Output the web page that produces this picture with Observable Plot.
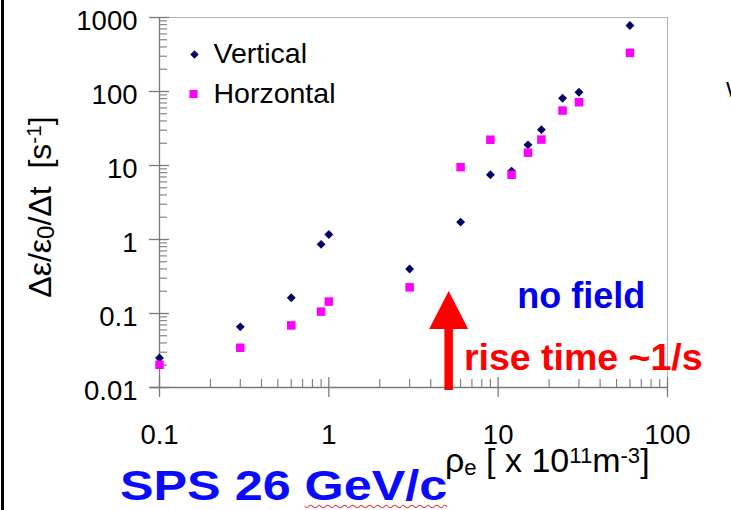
<!DOCTYPE html>
<html>
<head>
<meta charset="utf-8">
<script src="https://cdn.jsdelivr.net/npm/d3@7"></script>
<script src="https://cdn.jsdelivr.net/npm/@observablehq/plot@0.6"></script>
<style>
  html, body { margin: 0; padding: 0; background: #fff; }
  #wrap { position: relative; width: 731px; height: 510px; overflow: hidden; background: #fff; font-family: "Liberation Sans", Arial, sans-serif; }
  #wrap svg { position: absolute; left: 0; top: 0; }
  .ov { position: absolute; white-space: nowrap; line-height: 1; color: #000; }
  .sc { position: relative; font-size: 0.65em; }
</style>
</head>
<body>
<div id="wrap"></div>
<script>
// ---- data ----
const density = [0.1, 0.3, 0.6, 0.9, 1.0, 3, 6, 9, 12, 15, 18, 24, 30, 60];
const verticalRate = [0.025, 0.066, 0.163, 0.86, 1.17, 0.40, 1.72, 7.5, 8.4, 19, 30.5, 81, 97.5, 780];
const horizontalRate = [0.0203, 0.0344, 0.069, 0.106, 0.145, 0.226, 9.5, 22.3, 7.5, 14.9, 22.4, 55.3, 71.6, 333];
const xTicks = [0.1, 1, 10, 100];
const yTicks = [0.01, 0.1, 1, 10, 100, 1000];
const seriesNames = ["Vertical", "Horzontal"];
// annotations (data space)
const arrowX = [5.1];
const arrowFoot = 0.0091, arrowNeck = 0.0618;
const noteFieldX = [31], noteFieldY = [0.172];
const noteRiseX = [31.8], noteRiseY = [0.0247];

const vertical = density.map((x, i) => ({x, y: verticalRate[i]}));
const horizontal = density.map((x, i) => ({x, y: horizontalRate[i]}));
const minorOf = ticks => ticks.slice(0, -1).flatMap(t => [2,3,4,5,6,7,8,9].map(k => +(t * k).toPrecision(3)));
const xMinor = minorOf(xTicks);
const yMinor = minorOf(yTicks);

const navy = "#000066", magenta = "#ff00ff", axisGray = "#7a7a7a", frameGray = "#b4b4b4";

const headSymbol = {
  draw(context) {
    context.moveTo(-19.5, 0);
    context.lineTo(19.5, 0);
    context.lineTo(0, -38);
    context.closePath();
  }
};

const chart = Plot.plot({
  width: 731,
  height: 510,
  marginLeft: 159,
  marginRight: 64,
  marginTop: 17,
  marginBottom: 123,
  x: {type: "log", domain: [0.1, 100], axis: null},
  y: {type: "log", domain: [0.01, 1000], axis: null},
  style: {fontFamily: "'Liberation Sans', Arial, sans-serif", background: "transparent", overflow: "visible", color: "#000"},
  marks: [
    // frame top / right
    Plot.ruleY([1000], {stroke: frameGray, insetLeft: -10}),
    Plot.ruleX([100], {stroke: frameGray}),
    // axes lines
    Plot.ruleY([0.01], {stroke: axisGray, insetLeft: -9, strokeWidth: 1.3}),
    Plot.ruleX([0.1], {stroke: axisGray, strokeWidth: 1.3}),
    // ticks
    Plot.ruleX(xTicks, {x: d => d, stroke: axisGray, strokeWidth: 1.3, insetTop: 360, insetBottom: -10}),
    Plot.ruleX(xMinor, {x: d => d, stroke: axisGray, strokeWidth: 1.1, insetTop: 362}),
    Plot.ruleY(yTicks, {y: d => d, stroke: axisGray, strokeWidth: 1.3, insetLeft: -10, insetRight: 498}),
    Plot.ruleY(yMinor, {y: d => d, stroke: axisGray, strokeWidth: 1.1, insetRight: 500}),
    // tick labels
    Plot.text(yTicks, {y: d => d, text: d => String(d), frameAnchor: "left", lineAnchor: "middle", textAnchor: "end", dx: -22, dy: 3.5, fontSize: 27.5, fill: "#000"}),
    Plot.text(xTicks, {x: d => d, text: d => String(d), frameAnchor: "bottom", lineAnchor: "top", dy: 36.5, fontSize: 27.5, fill: "#000"}),
    // arrow
    Plot.ruleX(arrowX, {x: d => d, y1: arrowFoot, y2: arrowNeck * 1.05, stroke: "#ff0000", strokeWidth: 8.5}),
    Plot.dot(arrowX, {x: d => d, y: () => arrowNeck, symbol: headSymbol, r: 1, fill: "#ff0000", stroke: "none"}),
    // data
    Plot.dot(vertical, {x: "x", y: "y", symbol: "diamond2", r: 4.0, fill: navy, stroke: "none"}),
    Plot.dot(horizontal, {x: "x", y: "y", symbol: "square", r: 4.8, fill: magenta, stroke: "none"}),
    // legend
    Plot.dot([seriesNames[0]], {frameAnchor: "top-left", dx: 35, dy: 37, symbol: "diamond2", r: 3.8, fill: navy, stroke: "none"}),
    Plot.dot([seriesNames[1]], {frameAnchor: "top-left", dx: 34, dy: 76.5, symbol: "square", r: 4.6, fill: magenta, stroke: "none"}),
    Plot.text([seriesNames[0]], {frameAnchor: "top-left", lineAnchor: "middle", textAnchor: "start", dx: 54, dy: 36, fontSize: 28.5, fill: "#000"}),
    Plot.text([seriesNames[1]], {frameAnchor: "top-left", lineAnchor: "middle", textAnchor: "start", dx: 54, dy: 76, fontSize: 28.5, fill: "#000"}),
    // notes
    Plot.text(["no field"], {x: noteFieldX, y: noteFieldY, fontSize: 36, fontWeight: "bold", fill: "#0000ee"}),
    Plot.text(["rise time ~1/s"], {x: noteRiseX, y: noteRiseY, fontSize: 37.5, fontWeight: "bold", fill: "#ff0000"})
  ]
});

const wrap = document.getElementById("wrap");
wrap.appendChild(chart);

function overlay(html, css) {
  const d = document.createElement("div");
  d.className = "ov";
  d.innerHTML = html;
  Object.assign(d.style, css);
  wrap.appendChild(d);
  return d;
}
// slide border at the left
overlay("", {left: "1px", top: "0px", width: "2.5px", height: "510px", background: "#000"});
// y-axis title
overlay('Δε/ε<span class="sc" style="font-size:0.75em;top:0.12em">0</span>/Δt&nbsp; [s<span class="sc" style="top:-0.5em">-1</span>]',
  {left: "40px", top: "207px", fontSize: "32px", transform: "translate(-50%,-50%) rotate(-90deg)"});
// x-axis title
overlay('ρ<span class="sc" style="top:0.15em">e</span> [ x 10<span class="sc" style="top:-0.4em">11</span>m<span class="sc" style="top:-0.4em">-3</span>]',
  {left: "445px", top: "443px", fontSize: "34px"});
// chart label
overlay('SPS 26 <span style="text-decoration: underline wavy #e04040; text-decoration-thickness: 1px; text-underline-offset: 4px;">GeV/c</span>',
  {left: "120px", top: "464.5px", fontSize: "42px", fontWeight: "bold", color: "#0a0aff", transform: "scaleX(1.198)", transformOrigin: "0 0"});
// cropped letter at the right edge of the slide
overlay("W", {left: "726px", top: "79px", fontSize: "22px"});
</script>
</body>
</html>
